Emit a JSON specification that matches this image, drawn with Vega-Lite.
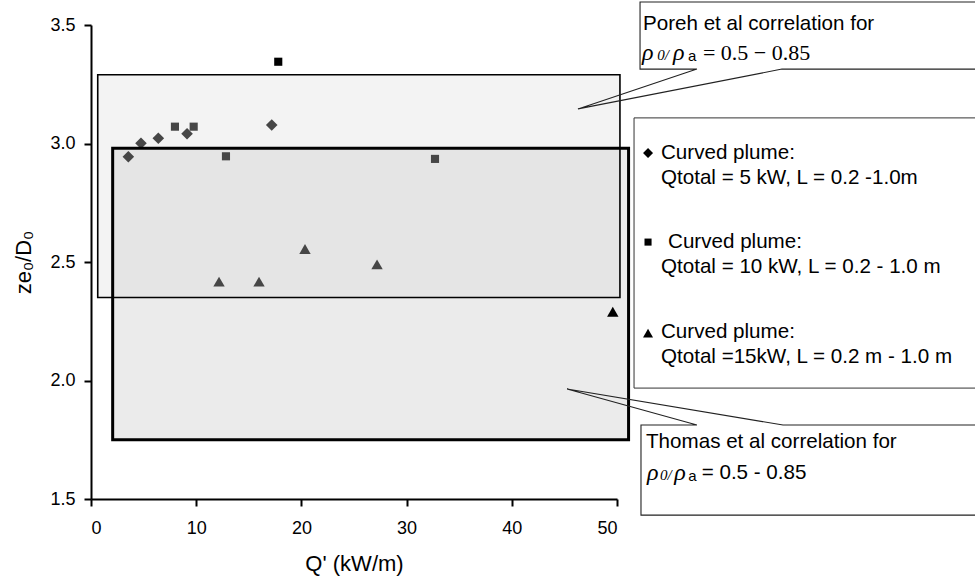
{
  "$schema": "https://vega.github.io/schema/vega-lite/v6.json",
  "autosize": "none",
  "width": 526,
  "height": 474,
  "padding": {"left": 91, "top": 25, "right": 358, "bottom": 79},
  "background": "white",
  "config": {
    "view": {"stroke": null},
    "font": "Liberation Sans",
    "axis": {
      "domainColor": "black", "domainWidth": 2, "tickColor": "black", "tickWidth": 2, "tickSize": 7,
      "labelFont": "Liberation Sans", "labelFontSize": 18, "labelColor": "black",
      "titleFont": "Liberation Sans", "titleFontSize": 22, "titleFontWeight": "normal", "titleColor": "black",
      "grid": false
    }
  },
  "datasets": {
    "points": [
      {"q": 3.55, "ze": 2.944, "series": "5 kW"},
      {"q": 4.75, "ze": 3.001, "series": "5 kW"},
      {"q": 6.40, "ze": 3.022, "series": "5 kW"},
      {"q": 9.13, "ze": 3.041, "series": "5 kW"},
      {"q": 17.18, "ze": 3.078, "series": "5 kW"},
      {"q": 7.98, "ze": 3.071, "series": "10 kW"},
      {"q": 9.76, "ze": 3.071, "series": "10 kW"},
      {"q": 12.83, "ze": 2.946, "series": "10 kW"},
      {"q": 17.80, "ze": 3.345, "series": "10 kW"},
      {"q": 32.70, "ze": 2.935, "series": "10 kW"},
      {"q": 12.17, "ze": 2.417, "series": "15 kW"},
      {"q": 15.97, "ze": 2.417, "series": "15 kW"},
      {"q": 20.34, "ze": 2.555, "series": "15 kW"},
      {"q": 27.19, "ze": 2.49, "series": "15 kW"},
      {"q": 49.6, "ze": 2.29, "series": "15 kW"}
    ],
    "regions": [
      {"name": "Thomas", "x1": 2.06, "x2": 51.1, "y1": 1.75, "y2": 2.98},
      {"name": "Poreh", "x1": 0.64, "x2": 50.28, "y1": 2.35, "y2": 3.29},
      {"name": "Legend", "x1": 51.62, "x2": 86.41, "y1": 1.968, "y2": 3.108}
    ],
    "callouts": [
      {"id": "P", "k": 1, "x": 86.41, "y": 3.597},
      {"id": "P", "k": 2, "x": 52.19, "y": 3.597},
      {"id": "P", "k": 3, "x": 52.19, "y": 3.314},
      {"id": "P", "k": 4, "x": 57.60, "y": 3.314},
      {"id": "P", "k": 5, "x": 46.29, "y": 3.146},
      {"id": "P", "k": 6, "x": 65.68, "y": 3.314},
      {"id": "P", "k": 7, "x": 86.41, "y": 3.314},
      {"id": "T", "k": 1, "x": 86.41, "y": 1.812},
      {"id": "T", "k": 2, "x": 65.78, "y": 1.812},
      {"id": "T", "k": 3, "x": 45.25, "y": 1.964},
      {"id": "T", "k": 4, "x": 57.60, "y": 1.812},
      {"id": "T", "k": 5, "x": 52.28, "y": 1.812},
      {"id": "T", "k": 6, "x": 52.28, "y": 1.432},
      {"id": "T", "k": 7, "x": 86.41, "y": 1.432}
    ],
    "legendSymbols": [
      {"x": 52.95, "y": 2.960, "series": "5 kW"},
      {"x": 52.95, "y": 2.584, "series": "10 kW"},
      {"x": 52.95, "y": 2.200, "series": "15 kW"}
    ],
    "sansText": [
      {"x": 52.47, "y": 3.504, "label": "Poreh et al correlation for"},
      {"x": 54.18, "y": 2.960, "label": "Curved plume:"},
      {"x": 54.18, "y": 2.854, "label": "Qtotal = 5 kW, L = 0.2 -1.0m"},
      {"x": 54.85, "y": 2.584, "label": "Curved plume:"},
      {"x": 54.18, "y": 2.479, "label": "Qtotal = 10 kW, L = 0.2 - 1.0 m"},
      {"x": 54.18, "y": 2.205, "label": "Curved plume:"},
      {"x": 54.18, "y": 2.099, "label": "Qtotal =15kW, L = 0.2 m - 1.0 m"},
      {"x": 52.76, "y": 1.741, "label": "Thomas et al correlation for"},
      {"x": 58.05, "y": 1.610, "label": "= 0.5 - 0.85"}
    ],
    "rhoText": [
      {"x": 52.38, "y": 3.382, "label": "ρ"},
      {"x": 55.33, "y": 3.382, "label": "ρ"},
      {"x": 52.85, "y": 1.610, "label": "ρ"},
      {"x": 55.45, "y": 1.610, "label": "ρ"}
    ],
    "subItalicText": [
      {"x": 53.83, "y": 3.375, "label": "0/"},
      {"x": 54.09, "y": 1.603, "label": "0/"}
    ],
    "subSansText": [
      {"x": 56.76, "y": 3.370, "label": "a"},
      {"x": 56.78, "y": 1.598, "label": "a"}
    ],
    "serifText": [
      {"x": 58.17, "y": 3.382, "label": "= 0.5 − 0.85"}
    ]
  },
  "layer": [
    {
      "data": {"name": "regions"},
      "transform": [{"filter": "datum.name == 'Thomas'"}],
      "mark": {"type": "rect", "fill": "#ebebeb", "strokeWidth": 0},
      "encoding": {
        "x": {"field": "x1", "type": "quantitative", "scale": {"domain": [0, 50], "nice": false, "zero": false},
              "axis": {"values": [0, 10, 20, 30, 40, 50], "title": "Q' (kW/m)", "labelPadding": 13, "titlePadding": 16}},
        "x2": {"field": "x2"},
        "y": {"field": "y1", "type": "quantitative", "scale": {"domain": [1.5, 3.5], "nice": false, "zero": false},
              "axis": {"values": [1.5, 2, 2.5, 3, 3.5], "format": ".1f", "title": "ze₀/D₀", "labelPadding": 9, "titlePadding": 14}},
        "y2": {"field": "y2"}
      }
    },
    {
      "data": {"name": "points"},
      "transform": [{"filter": "datum.series == '5 kW'"}],
      "mark": {"type": "point", "shape": "diamond", "size": 135, "filled": true, "opacity": 1, "color": "black"},
      "encoding": {"x": {"field": "q", "type": "quantitative"}, "y": {"field": "ze", "type": "quantitative"}}
    },
    {
      "data": {"name": "points"},
      "transform": [{"filter": "datum.series == '10 kW'"}],
      "mark": {"type": "point", "shape": "square", "size": 66, "filled": true, "opacity": 1, "color": "black"},
      "encoding": {"x": {"field": "q", "type": "quantitative"}, "y": {"field": "ze", "type": "quantitative"}}
    },
    {
      "data": {"name": "points"},
      "transform": [{"filter": "datum.series == '15 kW'"}],
      "mark": {"type": "point", "shape": "triangle-up", "size": 130, "filled": true, "opacity": 1, "color": "black"},
      "encoding": {"x": {"field": "q", "type": "quantitative"}, "y": {"field": "ze", "type": "quantitative"}}
    },
    {
      "data": {"name": "regions"},
      "transform": [{"filter": "datum.name == 'Poreh'"}],
      "mark": {"type": "rect", "fill": "#dadada", "fillOpacity": 0.32, "strokeWidth": 0},
      "encoding": {"x": {"field": "x1", "type": "quantitative"}, "x2": {"field": "x2"}, "y": {"field": "y1", "type": "quantitative"}, "y2": {"field": "y2"}}
    },
    {
      "data": {"name": "regions"},
      "transform": [{"filter": "datum.name == 'Poreh'"}],
      "mark": {"type": "rect", "filled": false, "stroke": "black", "strokeWidth": 1.6},
      "encoding": {"x": {"field": "x1", "type": "quantitative"}, "x2": {"field": "x2"}, "y": {"field": "y1", "type": "quantitative"}, "y2": {"field": "y2"}}
    },
    {
      "data": {"name": "regions"},
      "transform": [{"filter": "datum.name == 'Thomas'"}],
      "mark": {"type": "rect", "filled": false, "stroke": "black", "strokeWidth": 3},
      "encoding": {"x": {"field": "x1", "type": "quantitative"}, "x2": {"field": "x2"}, "y": {"field": "y1", "type": "quantitative"}, "y2": {"field": "y2"}}
    },
    {
      "data": {"name": "regions"},
      "transform": [{"filter": "datum.name == 'Legend'"}],
      "mark": {"type": "rect", "fill": "white", "stroke": "#333333", "strokeWidth": 1},
      "encoding": {"x": {"field": "x1", "type": "quantitative"}, "x2": {"field": "x2"}, "y": {"field": "y1", "type": "quantitative"}, "y2": {"field": "y2"}}
    },
    {
      "data": {"name": "callouts"},
      "mark": {"type": "line", "stroke": "#222222", "strokeWidth": 1.1, "clip": false},
      "encoding": {
        "x": {"field": "x", "type": "quantitative"},
        "y": {"field": "y", "type": "quantitative"},
        "detail": {"field": "id"},
        "order": {"field": "k", "type": "quantitative"}
      }
    },
    {
      "data": {"name": "legendSymbols"},
      "transform": [{"filter": "datum.series == '5 kW'"}],
      "mark": {"type": "point", "shape": "diamond", "size": 100, "filled": true, "opacity": 1, "color": "black"},
      "encoding": {"x": {"field": "x", "type": "quantitative"}, "y": {"field": "y", "type": "quantitative"}}
    },
    {
      "data": {"name": "legendSymbols"},
      "transform": [{"filter": "datum.series == '10 kW'"}],
      "mark": {"type": "point", "shape": "square", "size": 50, "filled": true, "opacity": 1, "color": "black"},
      "encoding": {"x": {"field": "x", "type": "quantitative"}, "y": {"field": "y", "type": "quantitative"}}
    },
    {
      "data": {"name": "legendSymbols"},
      "transform": [{"filter": "datum.series == '15 kW'"}],
      "mark": {"type": "point", "shape": "triangle-up", "size": 100, "filled": true, "opacity": 1, "color": "black"},
      "encoding": {"x": {"field": "x", "type": "quantitative"}, "y": {"field": "y", "type": "quantitative"}}
    },
    {
      "data": {"name": "sansText"},
      "mark": {"type": "text", "align": "left", "baseline": "middle", "font": "Liberation Sans", "fontSize": 20.6, "color": "black"},
      "encoding": {"x": {"field": "x", "type": "quantitative"}, "y": {"field": "y", "type": "quantitative"}, "text": {"field": "label"}}
    },
    {
      "data": {"name": "rhoText"},
      "mark": {"type": "text", "align": "left", "baseline": "middle", "font": "Liberation Serif", "fontStyle": "italic", "fontSize": 24, "color": "black"},
      "encoding": {"x": {"field": "x", "type": "quantitative"}, "y": {"field": "y", "type": "quantitative"}, "text": {"field": "label"}}
    },
    {
      "data": {"name": "subItalicText"},
      "mark": {"type": "text", "align": "left", "baseline": "middle", "font": "Liberation Serif", "fontStyle": "italic", "fontSize": 15, "color": "black"},
      "encoding": {"x": {"field": "x", "type": "quantitative"}, "y": {"field": "y", "type": "quantitative"}, "text": {"field": "label"}}
    },
    {
      "data": {"name": "subSansText"},
      "mark": {"type": "text", "align": "left", "baseline": "middle", "font": "Liberation Sans", "fontSize": 15, "color": "black"},
      "encoding": {"x": {"field": "x", "type": "quantitative"}, "y": {"field": "y", "type": "quantitative"}, "text": {"field": "label"}}
    },
    {
      "data": {"name": "serifText"},
      "mark": {"type": "text", "align": "left", "baseline": "middle", "font": "Liberation Serif", "fontSize": 22, "color": "black"},
      "encoding": {"x": {"field": "x", "type": "quantitative"}, "y": {"field": "y", "type": "quantitative"}, "text": {"field": "label"}}
    }
  ]
}
